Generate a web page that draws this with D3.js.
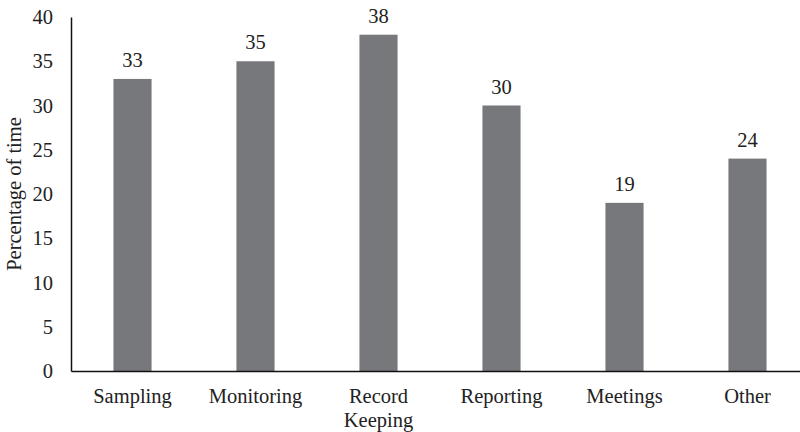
<!DOCTYPE html>
<html>
<head>
<meta charset="utf-8">
<script src="https://cdn.jsdelivr.net/npm/d3@7"></script>
<style>
body{margin:0;background:#fff;}
text{font-family:"Liberation Serif","Times New Roman",serif;fill:#222;}
</style>
</head>
<body>
<svg id="chart"></svg>
<script>
var categories=["Sampling","Monitoring","Record Keeping","Reporting","Meetings","Other"]
var values=[33,35,38,30,19,24]
var yTicks=[0,5,10,15,20,25,30,35,40]

var screen={width:800,height:432}
var margin={left:71,top:17,bottom:61}
var fontSize="20.5px"

var svg=d3.select("#chart")
    .attr("width",screen.width)
    .attr("height",screen.height)

var xScale=d3.scaleBand()
    .domain(categories)
    .range([margin.left,margin.left+6*123])
    .paddingInner(0.69)
    .paddingOuter(0.345)

var yScale=d3.scaleLinear()
    .domain([0,40])
    .range([screen.height-margin.bottom,margin.top])

//bars
svg.selectAll("rect.bar")
    .data(values)
    .enter()
    .append("rect")
    .attr("class","bar")
    .attr("x",function(d,i){return xScale(categories[i])})
    .attr("y",function(d){return yScale(d)})
    .attr("width",xScale.bandwidth())
    .attr("height",function(d){return yScale(0)-yScale(d)})
    .attr("fill","#77787c")

//value labels
svg.selectAll("text.val")
    .data(values)
    .enter()
    .append("text")
    .attr("class","val")
    .attr("x",function(d,i){return xScale(categories[i])+xScale.bandwidth()/2})
    .attr("y",function(d){return yScale(d)-12})
    .attr("text-anchor","middle")
    .style("font-size",fontSize)
    .text(function(d){return d})

//y axis
var yAxis=svg.append("g")
    .attr("transform","translate("+margin.left+",0)")
    .call(d3.axisLeft(yScale).tickValues(yTicks).tickSize(0).tickPadding(18))
yAxis.select(".domain").attr("stroke","#111").attr("stroke-width",1.5)
yAxis.selectAll("text").style("font-size",fontSize).attr("fill","#222")

//x axis
var xAxis=svg.append("g")
    .attr("transform","translate(0,"+yScale(0)+")")
    .call(d3.axisBottom(xScale).tickSize(0).tickPadding(0))
xAxis.select(".domain").attr("stroke","#111").attr("stroke-width",1.5)
xAxis.selectAll(".tick text").remove()
xAxis.selectAll(".tick").each(function(c){
    var words=c=="Record Keeping"?["Record","Keeping"]:[c]
    var t=d3.select(this).append("text")
        .attr("text-anchor","middle")
        .attr("fill","#222")
        .style("font-size",fontSize)
    words.forEach(function(w,i){
        t.append("tspan").attr("x",0).attr("y",32+i*24).text(w)
    })
})

//y title
svg.append("text")
    .attr("transform","translate(21,"+yScale(20)+") rotate(-90)")
    .attr("text-anchor","middle")
    .style("font-size",fontSize)
    .text("Percentage of time")
</script>
</body>
</html>
